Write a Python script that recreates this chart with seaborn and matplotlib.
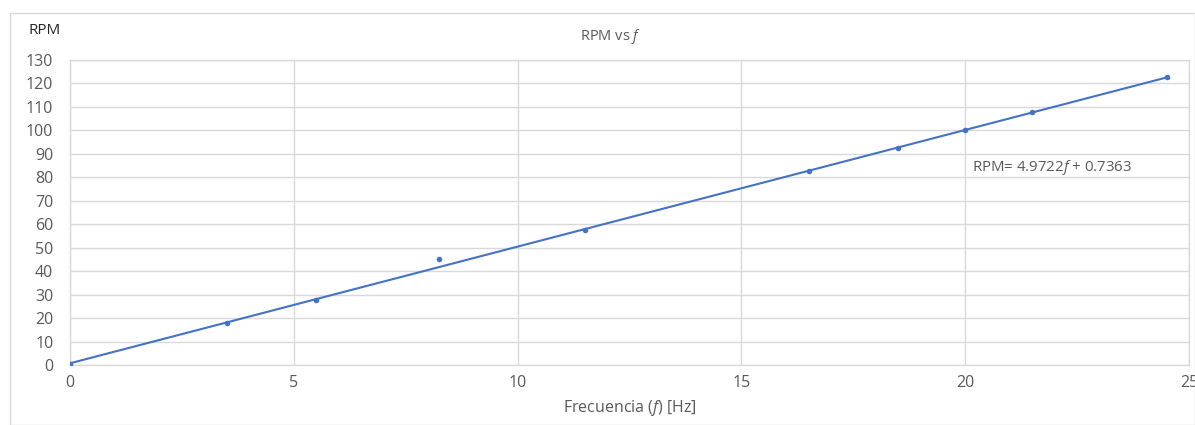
import numpy as np
import pandas as pd
import matplotlib
matplotlib.use("Agg")
import matplotlib.pyplot as plt
import seaborn as sns
from matplotlib.patches import Rectangle

# Measured frequency and rotational speed
freq_hz = [0, 3.5, 5.5, 8.25, 11.5, 16.5, 18.5, 20, 21.5, 24.5]
rpm = [0.5, 17.8, 27.6, 45.2, 57.5, 82.6, 92.5, 100.0, 107.7, 122.7]

# Linear trendline coefficients
slope = 4.9722
intercept = 0.7363

x_ticks = [0, 5, 10, 15, 20, 25]
y_ticks = list(range(0, 131, 10))

sns.set_theme(style="whitegrid")
plt.rcParams["font.family"] = ["Open Sans", "DejaVu Sans"]
plt.rcParams["mathtext.fontset"] = "custom"
plt.rcParams["mathtext.rm"] = "Open Sans"
plt.rcParams["mathtext.it"] = "Open Sans:italic"

text_color = "#595959"
grid_color = "#d9d9d9"
line_color = "#4472C4"

fig = plt.figure(figsize=(11.95, 4.25), dpi=100)
fig.patch.set_facecolor("white")
fig.add_artist(Rectangle((10 / 1195, 0), 1 - 10 / 1195, 1 - 13 / 425,
                         transform=fig.transFigure, fill=False,
                         edgecolor="#d9d9d9", linewidth=1.0))

ax = fig.add_axes([70 / 1195, 1 - 365 / 425, (1189 - 70) / 1195, (365 - 60) / 425])

df = pd.DataFrame({"f": freq_hz, "rpm": rpm})
fit_x = np.array([min(freq_hz), max(freq_hz)])
fit = pd.DataFrame({"f": fit_x, "rpm": slope * fit_x + intercept})

sns.lineplot(data=fit, x="f", y="rpm", ax=ax, color=line_color, linewidth=1.5, zorder=3)
sns.scatterplot(data=df, x="f", y="rpm", ax=ax, color=line_color, s=16,
                edgecolor=line_color, linewidth=0, zorder=4)

ax.set_xlim(0, 25)
ax.set_ylim(0, 130)
ax.set_xticks(x_ticks)
ax.set_yticks(y_ticks)
ax.grid(True, color=grid_color, linewidth=1.0)
for side in ["left", "right", "top", "bottom"]:
    ax.spines[side].set_color(grid_color)
    ax.spines[side].set_linewidth(1.0)
ax.tick_params(axis="both", colors=text_color, labelsize=11.5, length=0)
ax.tick_params(axis="x", pad=7)
ax.tick_params(axis="y", pad=12)

ax.set_xlabel(r"Frecuencia $\mathit{(f)}$ [Hz]", color=text_color, fontsize=11.5, labelpad=5)
ax.set_ylabel("")
fig.text(29 / 1195, 1 - 31 / 425, "RPM", color="#262626", fontsize=11, va="center", ha="left")
fig.text(611 / 1195, 1 - 37 / 425, r"RPM vs $\mathit{f}$", color=text_color, fontsize=10.5,
         ha="center", va="center")

ax.text(20.15, 84, r"RPM= 4.9722$\mathit{f}$ + 0.7363", color=text_color, fontsize=10.8,
        ha="left", va="center")

fig.savefig("out.png", dpi=100, facecolor="white")
